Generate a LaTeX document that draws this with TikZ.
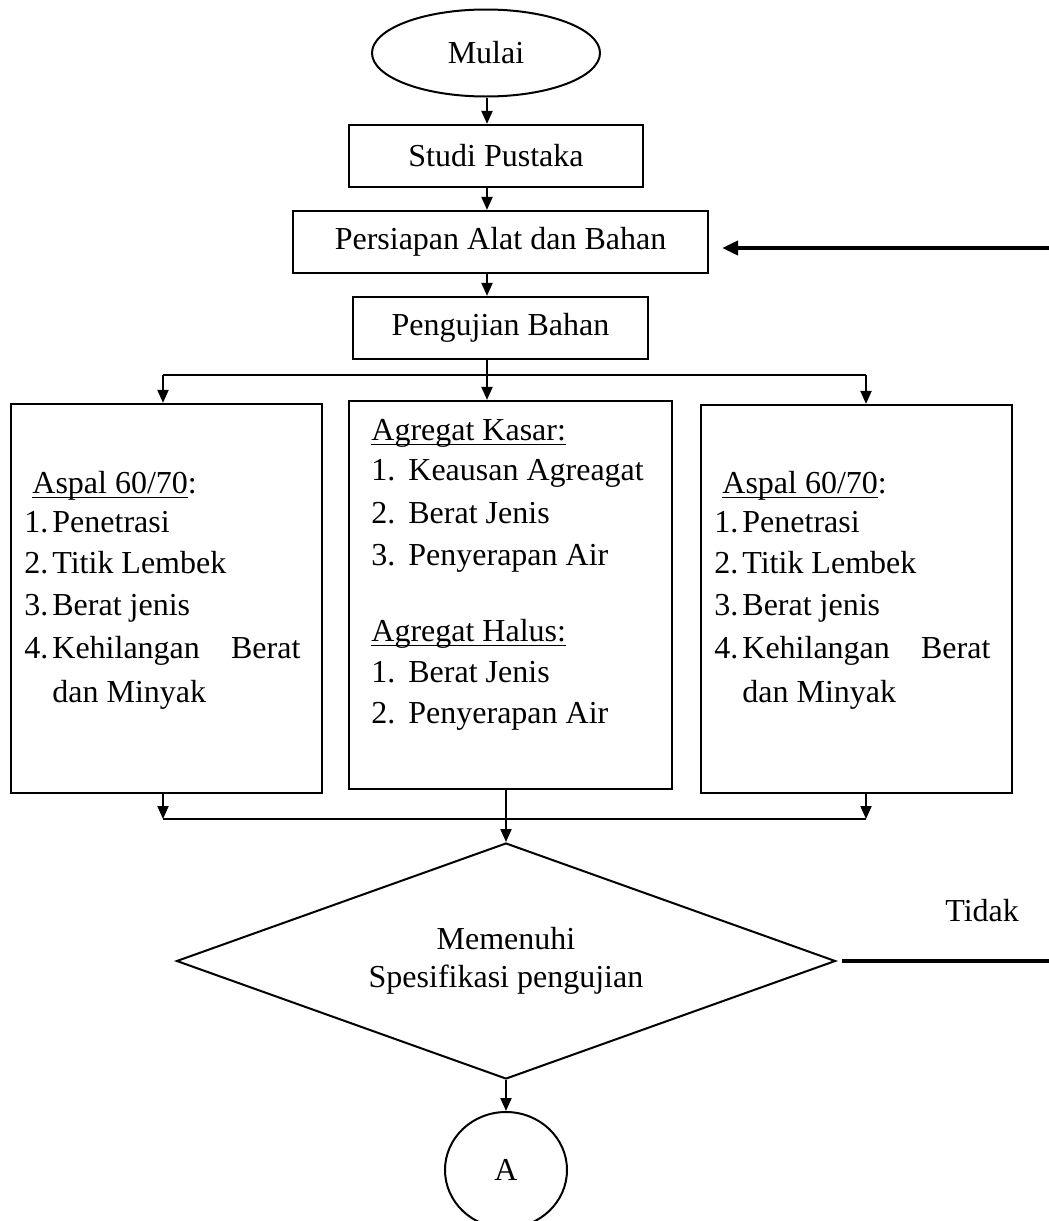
\documentclass[tikz,border=0pt]{standalone}
\usepackage{fontspec}
\setmainfont{Liberation Serif}
\usetikzlibrary{shapes.geometric,arrows.meta}
\newcommand\ulx[1]{\setbox0\hbox{#1}\rlap{\rule[-2.6pt]{\wd0}{0.8pt}}\box0}
\newcommand\numA[2]{\makebox[14pt][l]{#1}#2}
\newcommand\numB[2]{\makebox[18.5pt][l]{#1}#2}
\begin{document}
\begin{tikzpicture}[x=0.5pt,y=-0.5pt,
  every node/.style={font=\fontsize{16}{19}\selectfont},
  box/.style={draw, line width=1.1pt, rectangle, inner sep=0pt},
  oval/.style={draw, line width=1pt, ellipse, inner sep=0pt},
  txt/.style={anchor=base west, inner sep=0pt},
  arr/.style={line width=1pt, -{Triangle[length=6.5pt,width=5.5pt]}},
  thinl/.style={line width=0.55pt},
  heavy/.style={line width=2pt},
]
\useasboundingbox (0,0) rectangle (1049,1221);

% main nodes
\node[oval, minimum width=114pt, minimum height=43.5pt] (mulai) at (486,53) {Mulai};
\node[box, minimum width=147pt, minimum height=31pt] (studi) at (496,156) {Studi Pustaka};
\node[box, minimum width=207.5pt, minimum height=31pt] (persiapan) at (500.5,242) {Persiapan Alat dan Bahan};
\node[box, minimum width=147.5pt, minimum height=31pt] (uji) at (500.5,328) {Pengujian Bahan};
\node[box, minimum width=155.5pt, minimum height=194.5pt] (lbox) at (166.5,598.5) {};
\node[box, minimum width=161.5pt, minimum height=194pt] (mbox) at (510.5,595) {};
\node[box, minimum width=155.5pt, minimum height=194pt] (rbox) at (856.5,599) {};
\node[draw, line width=1pt, diamond, aspect=2.8, inner sep=0pt, minimum width=329.5pt, minimum height=118pt, align=center] (dia) at (506,961) {Memenuhi\\Spesifikasi pengujian};
\node[oval, minimum width=61pt, minimum height=58pt] (a) at (506,1170) {A};

% left box text
\node[txt] (la0) at (32,493) {\ulx{Aspal 60/70}:};
\node[txt] (la1) at (24,532) {\numA{1.}{Penetrasi}};
\node[txt] (la2) at (24,573) {\numA{2.}{Titik Lembek}};
\node[txt] (la3) at (24,615) {\numA{3.}{Berat jenis}};
\node[txt] (la4) at (24,658) {\numA{4.}{\makebox[124pt][l]{Kehilangan\hfill Berat}}};
\node[txt] (la5) at (52,702) {dan Minyak};

% middle box text
\node[txt] (mb0) at (371,440) {\ulx{Agregat Kasar:}};
\node[txt] (mb1) at (371,480) {\numB{1.}{Keausan Agreagat}};
\node[txt] (mb2) at (371,523) {\numB{2.}{Berat Jenis}};
\node[txt] (mb3) at (371,565) {\numB{3.}{Penyerapan Air}};
\node[txt] (mb4) at (371,641) {\ulx{Agregat Halus:}};
\node[txt] (mb5) at (371,682) {\numB{1.}{Berat Jenis}};
\node[txt] (mb6) at (371,723) {\numB{2.}{Penyerapan Air}};

% right box text
\node[txt] (ra0) at (722,493) {\ulx{Aspal 60/70}:};
\node[txt] (ra1) at (714,532) {\numA{1.}{Penetrasi}};
\node[txt] (ra2) at (714,573) {\numA{2.}{Titik Lembek}};
\node[txt] (ra3) at (714,615) {\numA{3.}{Berat jenis}};
\node[txt] (ra4) at (714,658) {\numA{4.}{\makebox[124pt][l]{Kehilangan\hfill Berat}}};
\node[txt] (ra5) at (742,702) {dan Minyak};

\node[txt] (tidak) at (945,921) {Tidak};

% connectors
\coordinate (ax) at (487,0);
\draw[arr] (mulai.south -| ax) -- (studi.north -| ax);
\draw[arr] (studi.south -| ax) -- (persiapan.north -| ax);
\draw[arr] (persiapan.south -| ax) -- (uji.north -| ax);
\draw[arr] (uji.south -| ax) -- (mbox.north -| ax);
\coordinate (bl) at (163,375);
\coordinate (brr) at (866,375);
\draw[thinl] (bl) -- (brr);
\draw[arr] (bl) -- (bl |- lbox.north);
\draw[arr] (brr) -- (brr |- rbox.north);
\coordinate (ml) at (163,819);
\coordinate (mr) at (866,819);
\draw[arr] (bl |- lbox.south) -- (ml);
\draw[arr] (brr |- rbox.south) -- (mr);
\draw[thinl] (ml) -- (mr);
\draw[arr] (dia.north |- mbox.south) -- (dia.north);
\draw[arr] (dia.south) -- (a.north);
\coordinate (te) at (1052,961);
\draw[heavy] ([xshift=2.5pt]dia.east) -- (te);
\coordinate (pe) at (1052,248);
\draw[heavy, -{Triangle[length=8pt,width=7pt]}] (pe) -- ([xshift=6.5pt]persiapan.east |- pe);
\end{tikzpicture}
\end{document}
